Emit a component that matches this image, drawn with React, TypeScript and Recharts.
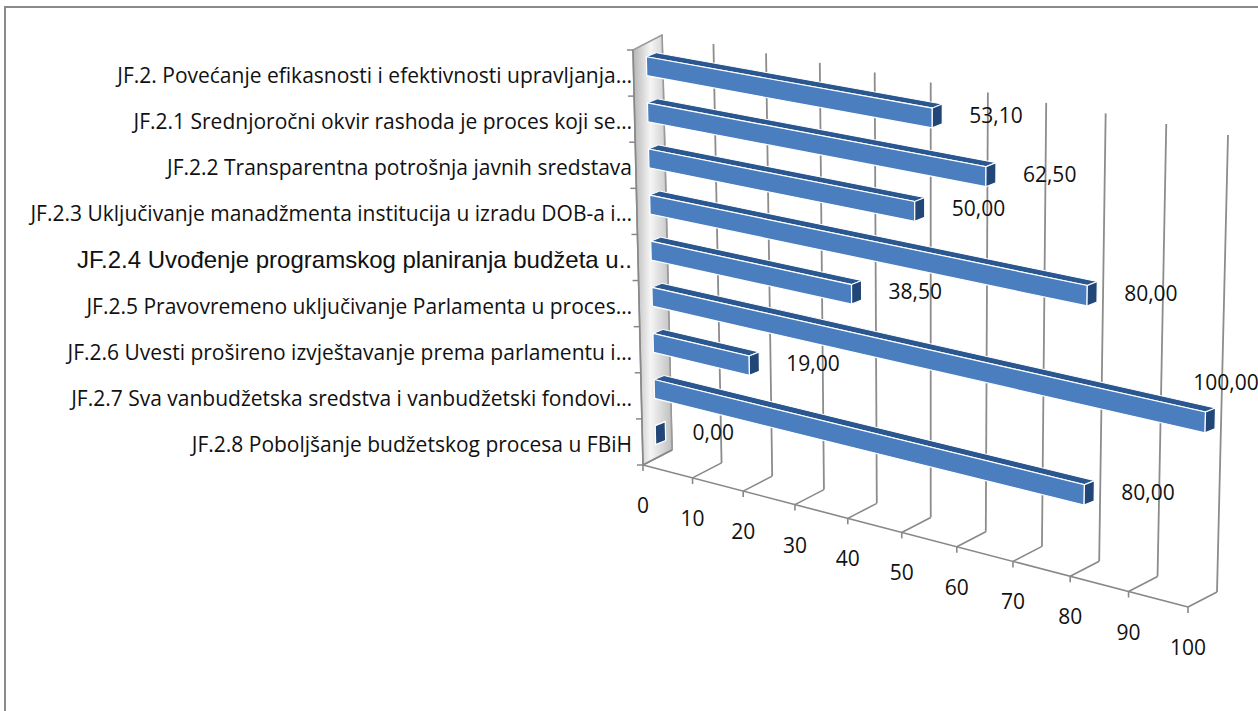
import { BarChart, Bar, XAxis, YAxis, CartesianGrid, LabelList } from 'recharts'

// categories top to bottom, values
const categories = [
  'JF.2. Povećanje efikasnosti i efektivnosti upravljanja…',
  'JF.2.1 Srednjoročni okvir rashoda je proces koji se…',
  'JF.2.2 Transparentna potrošnja javnih sredstava',
  'JF.2.3 Uključivanje manadžmenta institucija u izradu DOB-a i…',
  'JF.2.4 Uvođenje programskog planiranja budžeta u..',
  'JF.2.5 Pravovremeno uključivanje Parlamenta u proces…',
  'JF.2.6 Uvesti prošireno izvještavanje prema parlamentu i…',
  'JF.2.7 Sva vanbudžetska sredstva i vanbudžetski fondovi…',
  'JF.2.8 Poboljšanje budžetskog procesa u FBiH',
]
const values = [53.1, 62.5, 50, 80, 38.5, 100, 19, 80, 0]
const valueTicks = [0, 10, 20, 30, 40, 50, 60, 70, 80, 90, 100]

const rows = categories.map((name, i) => ({ name, value: values[i] }))

const W = 1258
const H = 711
const Y_AXIS_W = 300
const X_AXIS_H = 30
const PLOT_LEFT = Y_AXIS_W
const PLOT_TOP = 0
const PLOT_W = W - Y_AXIS_W
const PLOT_H = H - X_AXIS_H

const FONT = '"Open Sans", Lato, sans-serif'
const FONT_SIZE = 21
const ARIAL_ROW = 4 // this label was typed in Arial in the original

// 3D look: the flat plot is mapped onto a tilted front plane
type Pt = [number, number]
const TL: Pt = [633, 50]
const BL: Pt = [643, 465]
const TR: Pt = [1199, 150]
const BR: Pt = [1188, 607]
const DEPTH: Pt = [29, -15]
const BAR_OFF: Pt = [13, -7]
const CAP: Pt = [10, -4]

const warp = (u: number) => (490 * u + 55 * u * u) / 545

function front(u: number, w: number): Pt {
  const g = warp(u)
  const lx = TL[0] + (BL[0] - TL[0]) * w
  const ly = TL[1] + (BL[1] - TL[1]) * w
  const rx = TR[0] + (BR[0] - TR[0]) * w
  const ry = TR[1] + (BR[1] - TR[1]) * w
  return [lx + (rx - lx) * g, ly + (ry - ly) * g]
}
const add = (p: Pt, d: Pt): Pt => [p[0] + d[0], p[1] + d[1]]
const poly = (ps: Pt[]) => ps.map((p) => p.join(',')).join(' ')
const toU = (x: number) => (x - PLOT_LEFT) / PLOT_W
const toW = (y: number) => (y - PLOT_TOP) / PLOT_H

function fmt(v: number) {
  return v.toFixed(2).replace('.', ',')
}

function barGeom(x: number, y: number, width: number, height: number) {
  const band = 1 / categories.length
  const half = band * 0.205
  const wc = toW(y + height / 2)
  const u0 = toU(x)
  const u1 = toU(x + width)
  const a = add(front(u0, wc - half), BAR_OFF)
  const b = add(front(u1, wc - half), BAR_OFF)
  const c = add(front(u1, wc + half), BAR_OFF)
  const d = add(front(u0, wc + half), BAR_OFF)
  const end = add(front(u1, wc), BAR_OFF)
  return { a, b, c, d, end }
}

function Bar3D(props: any) {
  const { x, y, width, height } = props
  const { a, b, c, d } = barGeom(x, y, width, height)
  return (
    <g>
      <polygon points={poly([a, b, add(b, CAP), add(a, CAP)])} fill="#2b5791" stroke="#fff" strokeWidth={1} />
      <polygon points={poly([a, b, c, d])} fill="#4a7ebf" stroke="#fff" strokeWidth={1.2} />
      <polygon points={poly([b, c, add(c, CAP), add(b, CAP)])} fill="#234678" stroke="#fff" strokeWidth={1.2} />
    </g>
  )
}

function ValueLabel(props: any) {
  const vb = props.viewBox ?? props
  const x = props.x ?? vb.x
  const y = props.y ?? vb.y
  const width = props.width ?? vb.width
  const height = props.height ?? vb.height
  const { end } = barGeom(x, y, width, height)
  let lx = end[0] + CAP[0] + 27
  let ly = end[1] - 3
  // no room on the right: put it above the bar end
  if (lx + 60 > W) {
    lx = end[0] - 12
    ly = end[1] - 40
  }
  return (
    <text x={lx} y={ly} dominantBaseline="central" fontFamily={FONT} fontSize={FONT_SIZE} fill="#111">
      {fmt(Number(props.value))}
    </text>
  )
}

function CategoryTick(props: any) {
  const { y, payload } = props
  const idx = categories.indexOf(payload.value)
  const band = 1 / categories.length
  const w = toW(y)
  const p = front(0, w)
  const top = front(0, w - band / 2)
  const isArial = idx === ARIAL_ROW
  return (
    <g>
      <line x1={top[0]} y1={top[1]} x2={top[0] - 6} y2={top[1]} stroke="#888" strokeWidth={1.5} />
      {idx === categories.length - 1 && (
        <line x1={BL[0]} y1={BL[1]} x2={BL[0] - 6} y2={BL[1]} stroke="#888" strokeWidth={1.5} />
      )}
      <text
        x={TL[0] - 1}
        y={p[1] + 2}
        textAnchor="end"
        dominantBaseline="central"
        fontFamily={isArial ? '"Liberation Sans", Arial, sans-serif' : FONT}
        fontSize={isArial ? 24 : FONT_SIZE}
        fill="#111"
      >
        {payload.value}
      </text>
    </g>
  )
}

function ValueTick(props: any) {
  const { x, payload } = props
  const u = toU(x)
  const f = front(u, 1)
  const bk = add(f, DEPTH)
  return (
    <g>
      <line x1={f[0]} y1={f[1]} x2={bk[0]} y2={bk[1]} stroke="#888" strokeWidth={1.6} />
      <line x1={f[0]} y1={f[1]} x2={f[0]} y2={f[1] + 6} stroke="#888" strokeWidth={1.6} />
      <text x={f[0]} y={f[1] + 40} textAnchor="middle" dominantBaseline="central" fontFamily={FONT} fontSize={FONT_SIZE} fill="#111">
        {payload.value}
      </text>
    </g>
  )
}

function GridLine(props: any) {
  const u = toU(props.x1)
  const t = add(front(u, 0), DEPTH)
  const b = add(front(u, 1), DEPTH)
  return <line key={`g-${props.index ?? props.x1}`} x1={t[0]} y1={t[1]} x2={b[0]} y2={b[1]} stroke="#8c8c8c" strokeWidth={1.8} />
}

function SideWall() {
  const f0 = TL
  const f1 = BL
  return (
    <g>
      <defs>
        <linearGradient id="wallFill" x1="0" y1="0" x2="1" y2="0">
          <stop offset="0" stopColor="#b5b5b5" />
          <stop offset="0.45" stopColor="#f5f5f5" />
          <stop offset="1" stopColor="#bfbfbf" />
        </linearGradient>
      </defs>
      <polygon points={poly([f0, f1, add(f1, DEPTH), add(f0, DEPTH)])} fill="url(#wallFill)" stroke="#9a9a9a" strokeWidth={1.5} />
      <line x1={f0[0]} y1={f0[1]} x2={f1[0]} y2={f1[1]} stroke="#888" strokeWidth={1.6} />
      <line x1={BL[0]} y1={BL[1]} x2={BR[0]} y2={BR[1]} stroke="#888" strokeWidth={1.6} />
    </g>
  )
}

export default function App() {
  return (
    <div style={{ position: 'absolute', left: 0, top: 0, width: W, height: H, background: '#fff' }}>
      <div
        style={{
          position: 'absolute',
          left: 4,
          top: 6,
          width: W - 4,
          height: H - 6,
          borderTop: '2px solid #8a8a8a',
          borderLeft: '2px solid #8a8a8a',
          boxSizing: 'border-box',
        }}
      />
      <div style={{ position: 'absolute', left: 0, top: 0 }}>
        <BarChart width={W} height={H} data={rows} layout="vertical" margin={{ top: 0, right: 0, bottom: 0, left: 0 }}>
          <CartesianGrid horizontal={false} vertical={GridLine} />
          <SideWall />
          <XAxis
            type="number"
            domain={[0, 100]}
            ticks={valueTicks}
            interval={0}
            height={X_AXIS_H}
            axisLine={false}
            tickLine={false}
            tick={ValueTick}
          />
          <YAxis
            type="category"
            dataKey="name"
            width={Y_AXIS_W}
            interval={0}
            axisLine={false}
            tickLine={false}
            tick={CategoryTick}
          />
          <Bar dataKey="value" shape={Bar3D} isAnimationActive={false}>
            <LabelList dataKey="value" content={ValueLabel} />
          </Bar>
        </BarChart>
      </div>
    </div>
  )
}
